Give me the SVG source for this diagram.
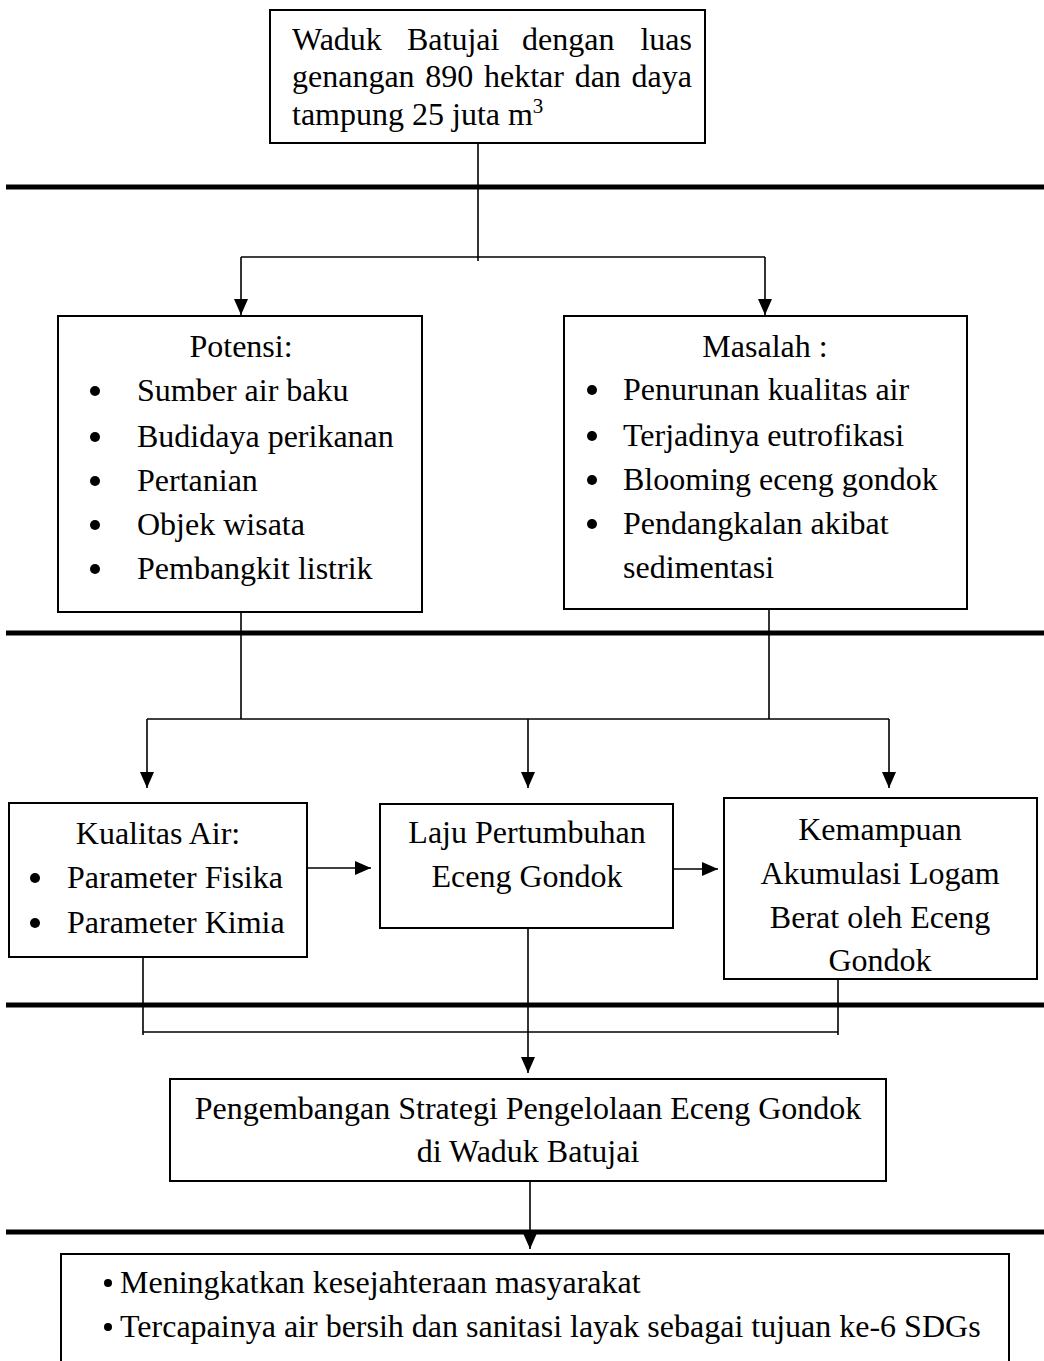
<svg xmlns="http://www.w3.org/2000/svg" width="1044" height="1361" viewBox="0 0 1044 1361">
<defs>
<style>
.box{fill:#fff;stroke:#000;stroke-width:2}
.t{font-family:"Liberation Serif","Times New Roman",serif;font-size:32px;fill:#000}
.c{text-anchor:middle}
.thick{stroke:#000;stroke-width:5}
.ln{stroke:#000;stroke-width:1.6;fill:none}
.bul{fill:#000}
</style>
<marker id="ah" viewBox="0 0 16 14" markerWidth="16" markerHeight="14" refX="16" refY="7" orient="auto" markerUnits="userSpaceOnUse">
<path d="M0,0 L16,7 L0,14 z" fill="#000"/>
</marker>
</defs>
<rect width="1044" height="1361" fill="#fff"/>

<g id="separators">
<line class="thick" x1="6" y1="187" x2="1044" y2="187"/>
<line class="thick" x1="6" y1="633" x2="1044" y2="633"/>
<line class="thick" x1="6" y1="1005" x2="1044" y2="1005"/>
<line class="thick" x1="6" y1="1232" x2="1044" y2="1232"/>
</g>

<g id="connectors">
<line class="ln" x1="478" y1="143" x2="478" y2="261"/>
<line class="ln" x1="241" y1="257" x2="765" y2="257"/>
<line class="ln" x1="241" y1="257" x2="241" y2="315" marker-end="url(#ah)"/>
<line class="ln" x1="765" y1="257" x2="765" y2="315" marker-end="url(#ah)"/>
<line class="ln" x1="241" y1="612" x2="241" y2="719"/>
<line class="ln" x1="769" y1="609" x2="769" y2="719"/>
<line class="ln" x1="147" y1="719" x2="889" y2="719"/>
<line class="ln" x1="147" y1="719" x2="147" y2="788" marker-end="url(#ah)"/>
<line class="ln" x1="528" y1="719" x2="528" y2="788" marker-end="url(#ah)"/>
<line class="ln" x1="889" y1="719" x2="889" y2="788" marker-end="url(#ah)"/>
<line class="ln" x1="307" y1="868" x2="371" y2="868" marker-end="url(#ah)"/>
<line class="ln" x1="673" y1="869" x2="718" y2="869" marker-end="url(#ah)"/>
<line class="ln" x1="143" y1="957" x2="143" y2="1035"/>
<line class="ln" x1="838" y1="979" x2="838" y2="1035"/>
<line class="ln" x1="143" y1="1032" x2="838" y2="1032"/>
<line class="ln" x1="528" y1="928" x2="528" y2="1073" marker-end="url(#ah)"/>
<line class="ln" x1="530" y1="1181" x2="530" y2="1249" marker-end="url(#ah)"/>
</g>

<g id="node-waduk">
<rect class="box" x="270" y="10" width="435" height="133"/>
<text class="t" y="50"><tspan x="292">Waduk</tspan><tspan x="407">Batujai</tspan><tspan x="522">dengan</tspan><tspan x="692" text-anchor="end">luas</tspan></text>
<text class="t" x="292" y="87" word-spacing="2.7">genangan 890 hektar dan daya</text>
<text class="t" x="292" y="125">tampung 25 juta m<tspan font-size="21" dy="-12">3</tspan></text>
</g>

<g id="node-potensi">
<rect class="box" x="58" y="316" width="364" height="296"/>
<text class="t c" x="241" y="357">Potensi:</text>
<circle class="bul" cx="95" cy="391" r="5"/>
<circle class="bul" cx="95" cy="437" r="5"/>
<circle class="bul" cx="95" cy="481" r="5"/>
<circle class="bul" cx="95" cy="525" r="5"/>
<circle class="bul" cx="95" cy="569" r="5"/>
<text class="t" x="137" y="401">Sumber air baku</text>
<text class="t" x="137" y="447">Budidaya perikanan</text>
<text class="t" x="137" y="491">Pertanian</text>
<text class="t" x="137" y="535">Objek wisata</text>
<text class="t" x="137" y="579">Pembangkit listrik</text>
</g>

<g id="node-masalah">
<rect class="box" x="564" y="316" width="403" height="293"/>
<text class="t c" x="765" y="357">Masalah :</text>
<circle class="bul" cx="592" cy="390" r="5"/>
<circle class="bul" cx="592" cy="436" r="5"/>
<circle class="bul" cx="592" cy="480" r="5"/>
<circle class="bul" cx="592" cy="524" r="5"/>
<text class="t" x="623" y="400">Penurunan kualitas air</text>
<text class="t" x="623" y="446">Terjadinya eutrofikasi</text>
<text class="t" x="623" y="490">Blooming eceng gondok</text>
<text class="t" x="623" y="534">Pendangkalan akibat</text>
<text class="t" x="623" y="578">sedimentasi</text>
</g>

<g id="node-kualitas">
<rect class="box" x="9" y="803" width="298" height="154"/>
<text class="t c" x="158" y="844">Kualitas Air:</text>
<circle class="bul" cx="35" cy="878" r="5"/>
<circle class="bul" cx="35" cy="923" r="5"/>
<text class="t" x="67" y="888">Parameter Fisika</text>
<text class="t" x="67" y="933">Parameter Kimia</text>
</g>

<g id="node-laju">
<rect class="box" x="380" y="804" width="293" height="124"/>
<text class="t c" x="527" y="843">Laju Pertumbuhan</text>
<text class="t c" x="527" y="887">Eceng Gondok</text>
</g>

<g id="node-kemampuan">
<rect class="box" x="724" y="798" width="313" height="181"/>
<text class="t c" x="880" y="840">Kemampuan</text>
<text class="t c" x="880" y="884">Akumulasi Logam</text>
<text class="t c" x="880" y="928">Berat oleh Eceng</text>
<text class="t c" x="880" y="971">Gondok</text>
</g>

<g id="node-strategi">
<rect class="box" x="170" y="1079" width="716" height="102"/>
<text class="t c" x="528" y="1119">Pengembangan Strategi Pengelolaan Eceng Gondok</text>
<text class="t c" x="528" y="1162">di Waduk Batujai</text>
</g>

<g id="node-tujuan">
<path class="box" d="M61,1362 V1254 H1009 V1362"/>
<circle class="bul" cx="108" cy="1283" r="4"/>
<circle class="bul" cx="108" cy="1327" r="4"/>
<text class="t" x="120" y="1293">Meningkatkan kesejahteraan masyarakat</text>
<text class="t" x="120" y="1337">Tercapainya air bersih dan sanitasi layak sebagai tujuan ke-6 SDGs</text>
</g>
</svg>
